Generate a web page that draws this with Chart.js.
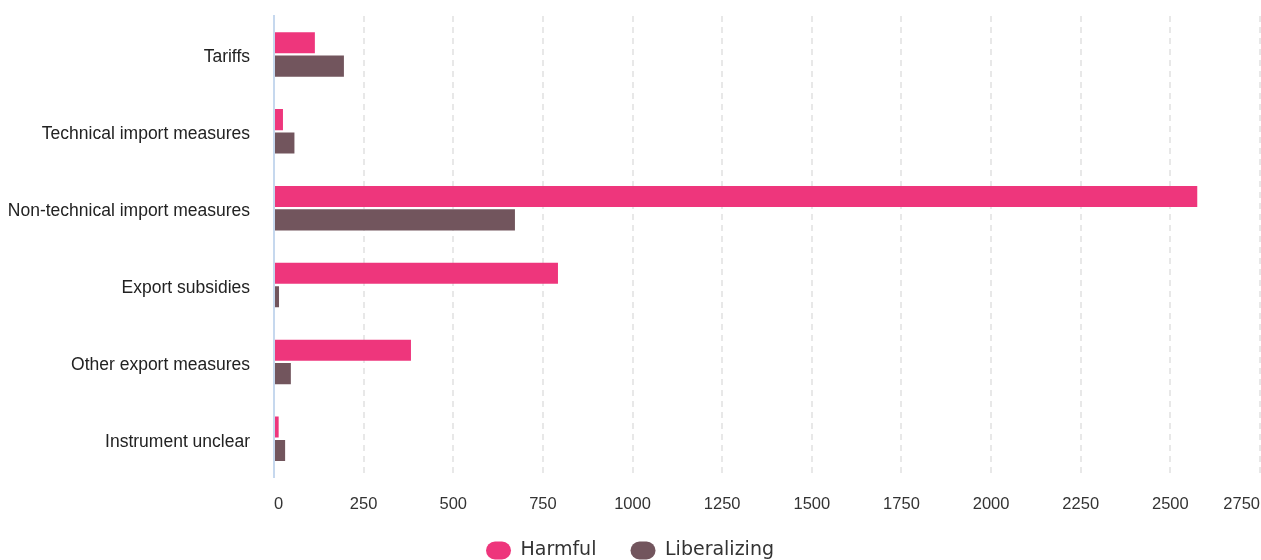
<!DOCTYPE html>
<html>
<head>
<meta charset="utf-8">
<script src="https://cdn.jsdelivr.net/npm/chart.js@4"></script>
<style>
  html, body { margin: 0; padding: 0; background: #fff; }
  #wrap { width: 1261px; height: 560px; }
</style>
</head>
<body>
<div id="wrap"><canvas id="myChart" width="1261" height="560"></canvas></div>
<script>
var categories = ['Tariffs', 'Technical import measures', 'Non-technical import measures', 'Export subsidies', 'Other export measures', 'Instrument unclear']
var harmful = [114, 25, 2575, 792, 382, 13]
var liberalizing = [195, 57, 672, 14, 47, 31]
var xTicks = [0, 250, 500, 750, 1000, 1250, 1500, 1750, 2000, 2250, 2500, 2750]

var ctx = document.getElementById('myChart').getContext('2d')
var chart = new Chart(ctx, {
    type: 'bar',
    data: {
        labels: categories,
        datasets: [
            {
                label: 'Harmful',
                data: harmful,
                backgroundColor: '#ee367c',
                categoryPercentage: 0.61,
                barPercentage: 0.9
            },
            {
                label: 'Liberalizing',
                data: liberalizing,
                backgroundColor: '#72555d',
                categoryPercentage: 0.61,
                barPercentage: 0.9
            }
        ]
    },
    options: {
        indexAxis: 'y',
        responsive: false,
        animation: false,
        layout: { padding: { top: 16, right: 1, left: 0, bottom: -10 } },
        scales: {
            x: {
                min: 0,
                max: 2750,
                afterBuildTicks: function(axis) {
                    axis.ticks = xTicks.map(function(v) { return { value: v } })
                },
                afterFit: function(axis) {
                    axis.height -= 12
                    axis.paddingRight = 0
                    axis.paddingLeft = 0
                },
                grid: {
                    color: '#e8e8e8',
                    lineWidth: 2,
                    drawTicks: false
                },
                border: { display: false, dash: [6, 5] },
                ticks: {
                    color: '#333',
                    padding: 17,
                    align: 'inner',
                    callback: function(v) { return String(v) },
                    font: { family: 'Liberation Sans, Arial, sans-serif', size: 16.5 }
                }
            },
            y: {
                afterFit: function(axis) {
                    axis.width = 274
                    axis.paddingTop = 0
                    axis.paddingBottom = 0
                },
                grid: { display: false, drawTicks: false },
                border: { display: true, color: '#c6d8ee', width: 2 },
                ticks: {
                    color: '#222',
                    padding: 24,
                    labelOffset: 3,
                    font: { family: 'Liberation Sans, Arial, sans-serif', size: 17.5 }
                }
            }
        },
        plugins: {
            tooltip: { enabled: false },
            legend: {
                position: 'bottom',
                labels: {
                    color: '#333',
                    boxWidth: 25,
                    boxHeight: 18,
                    useBorderRadius: true,
                    borderRadius: 9,
                    padding: 22,
                    font: { family: 'DejaVu Sans, Verdana, sans-serif', size: 19 },
                    generateLabels: function(chart) {
                        var items = Chart.defaults.plugins.legend.labels.generateLabels(chart)
                        // a little more room between the two legend entries
                        items[0].text += '  '
                        return items
                    }
                }
            }
        }
    }
})
</script>
</body>
</html>
